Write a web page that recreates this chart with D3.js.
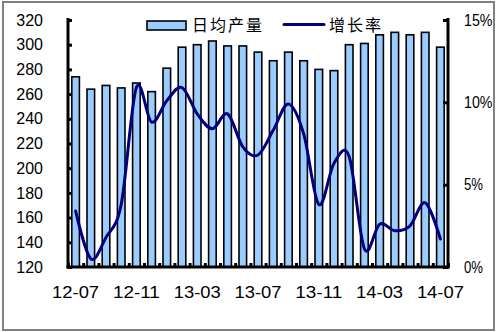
<!DOCTYPE html>
<html><head><meta charset="utf-8">
<script src="https://cdn.jsdelivr.net/npm/d3@7"></script>
<style>body{margin:0;background:#fff}svg{display:block}</style>
</head><body>
<script>
const months = ["12-07","12-08","12-09","12-10","12-11","12-12","13-01","13-02","13-03","13-04","13-05","13-06","13-07","13-08","13-09","13-10","13-11","13-12","14-01","14-02","14-03","14-04","14-05","14-06","14-07"];
const output = [274,264,267,265,269,262,281,298,300,303,299,299,294,287,294,287,280,279,300,301,308,310,308,310,298];
const growth = [3.4,0.5,1.8,3.8,10.9,8.8,10.1,10.9,9.3,8.4,9.3,7.3,6.8,8.3,9.9,8.1,3.8,6.3,6.7,1.1,2.6,2.2,2.5,3.9,1.7];
const leftTicks = [120,140,160,180,200,220,240,260,280,300,320];
const rightTicks = [0,5,10,15];
const xLabels = ["12-07","12-11","13-03","13-07","13-11","14-03","14-07"];
const seriesNames = ["日均产量","增长率"];

const W = 496, H = 332;
const L = 68, R = 448, T = 20, B = 267;
const font = "'Liberation Sans', 'DejaVu Sans', sans-serif";
const cjk = "'Noto Sans CJK SC', sans-serif";
const charW = 9.5;

const svg = d3.select("body").append("svg").attr("width", W).attr("height", H);
svg.append("rect").attr("x",0).attr("y",0).attr("width",W).attr("height",H).attr("fill","#fff");
svg.append("rect").attr("x",3).attr("y",2).attr("width",491).attr("height",328)
  .attr("fill","none").attr("stroke","#808080").attr("stroke-width",2);

const x = d3.scaleBand().domain(months).range([L, R]).paddingInner(0.5).paddingOuter(0.25);
const xc = d => x(d) + x.bandwidth()/2;
const y = d3.scaleLinear().domain([120,320]).range([B, T]);
const y2 = d3.scaleLinear().domain([0,15]).range([B, T]);

// bars
svg.append("g").selectAll("rect").data(months).join("rect")
  .attr("x", d => x(d)).attr("width", x.bandwidth())
  .attr("y", (d,i) => y(output[i])).attr("height", (d,i) => B - y(output[i]))
  .attr("fill", "#99CCFF").attr("stroke", "#000").attr("stroke-width", 1.6);

// line
const line = d3.line().x((d,i) => xc(months[i])).y(d => y2(d)).curve(d3.curveCardinal.tension(0));
svg.append("path").datum(growth).attr("d", line).attr("fill","none")
  .attr("stroke","#000080").attr("stroke-width",3).attr("stroke-linecap","round");

// axes
const gl = svg.append("g").attr("transform", `translate(${L},0)`)
  .call(d3.axisLeft(y).tickValues(leftTicks).tickSize(-4).tickPadding(25));
const gr = svg.append("g").attr("transform", `translate(${R},0)`)
  .call(d3.axisRight(y2).tickValues(rightTicks).tickSize(-5).tickPadding(16).tickFormat(d => d + "%"));
const step = x.step();
const boundaries = d3.range(months.length + 1).map(i => L + i*step);
const gb = svg.append("g").attr("transform", `translate(0,${B})`)
  .call(d3.axisBottom(d3.scaleLinear().domain([L,R]).range([L,R])).tickValues(boundaries).tickSize(-4).tickFormat(""));
[gl, gr, gb].forEach(g => {
  g.select(".domain").remove();
  g.selectAll(".tick line").attr("stroke","#000").attr("stroke-width",3);
  g.selectAll("text").attr("font-family", font).attr("font-size", 16).attr("fill","#000");
});
gl.selectAll("text").attr("text-anchor","end").attr("dx", 0);
gr.selectAll("text").attr("textLength", d => (String(d).length + 1) * charW).attr("lengthAdjust","spacingAndGlyphs");
svg.append("line").attr("x1",L).attr("x2",L).attr("y1",T-2).attr("y2",B+1.5).attr("stroke","#000").attr("stroke-width",3);
svg.append("line").attr("x1",R).attr("x2",R).attr("y1",T-2).attr("y2",B+1.5).attr("stroke","#000").attr("stroke-width",3);
svg.append("line").attr("x1",L-1.5).attr("x2",R+1.5).attr("y1",B).attr("y2",B).attr("stroke","#000").attr("stroke-width",3);

// x labels
svg.append("g").selectAll("text").data(xLabels).join("text")
  .attr("x", d => xc(d)).attr("y", 298).attr("text-anchor","middle")
  .attr("font-family", font).attr("font-size", 16)
  .attr("textLength", 47).attr("lengthAdjust","spacingAndGlyphs").text(d => d);

// legend
const lg = svg.append("g");
lg.append("rect").attr("x",147).attr("y",21).attr("width",39).attr("height",9)
  .attr("fill","#99CCFF").attr("stroke","#000").attr("stroke-width",1.6);
lg.append("text").attr("x",192).attr("y",31).attr("font-family",cjk).attr("font-size",16)
  .attr("letter-spacing",2).text(seriesNames[0]);
lg.append("line").attr("x1",284).attr("x2",324).attr("y1",24.5).attr("y2",24.5)
  .attr("stroke","#000080").attr("stroke-width",3).attr("stroke-linecap","round");
lg.append("text").attr("x",329).attr("y",31).attr("font-family",cjk).attr("font-size",16)
  .attr("letter-spacing",2).text(seriesNames[1]);
</script>
</body></html>
